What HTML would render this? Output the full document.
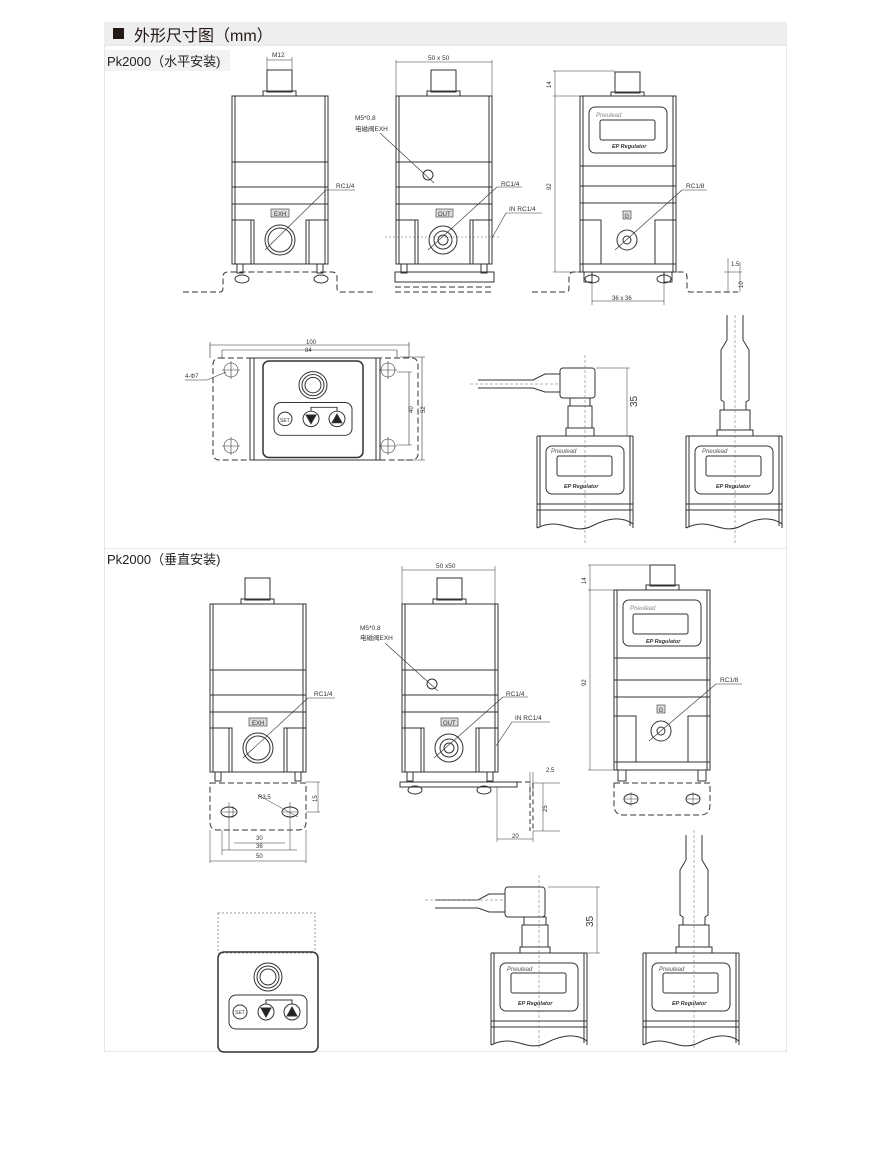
<!DOCTYPE html>
<html><head><meta charset="utf-8"><style>
body{margin:0;background:#fff;}
svg{display:block;font-family:"Liberation Sans","Noto Sans CJK SC",sans-serif;}
</style></head><body>
<svg width="890" height="1155" viewBox="0 0 890 1155" xmlns="http://www.w3.org/2000/svg">
<defs>
<g id="body" fill="none" stroke="#333" stroke-width="1">
 <rect x="35" y="-26" width="25" height="22"/>
 <rect x="31" y="-5" width="33" height="5"/>
 <rect x="0" y="0" width="96" height="168"/>
 <line x1="3" y1="0" x2="3" y2="168"/><line x1="93" y1="0" x2="93" y2="168"/>
 <line x1="0" y1="66" x2="96" y2="66"/><line x1="0" y1="91" x2="96" y2="91"/><line x1="0" y1="108" x2="96" y2="108"/>
 <rect x="0" y="124" width="22" height="44"/><line x1="19" y1="124" x2="19" y2="168"/>
 <rect x="74" y="124" width="22" height="44"/><line x1="77" y1="124" x2="77" y2="168"/>
 <rect x="5" y="168" width="6" height="9"/><rect x="85" y="168" width="6" height="9"/>
</g>
<g id="panel" fill="none" stroke="#333">
 <rect x="0" y="0" width="100" height="100" rx="6" stroke-width="1.5"/>
 <circle cx="50" cy="25" r="14"/><circle cx="50" cy="25" r="11"/><circle cx="50" cy="25" r="8"/>
 <rect x="11" y="43" width="78" height="34" rx="7"/>
 <circle cx="22" cy="60" r="7"/><circle cx="48" cy="60" r="8"/><circle cx="74" cy="60" r="8"/>
 <path d="M43 56 L53 56 L48 65 Z" fill="#222"/><path d="M69 64 L79 64 L74 55 Z" fill="#222"/>
 <path d="M48 52 V48 H74 V52" stroke-width="1"/>
</g>
<g id="stub" fill="none" stroke="#333">
 <path d="M0 0 H96 M0 0 V92 M96 0 V92 M0 68 H96 M0 74 H96 M3 0 V90 M93 0 V90"/>
 <path d="M0 92 C25 80 35 100 55 90 C70 82 85 80 96 88"/>
 <rect x="9" y="10" width="78" height="48" rx="6"/>
 <rect x="20" y="20" width="55" height="20" rx="2"/>
</g>
</defs>

<!-- header -->
<rect x="104" y="22" width="683" height="23" fill="#eeeeee"/>
<rect x="113" y="28" width="11" height="11" fill="#231815"/>
<text x="134" y="41" font-size="16" fill="#231815">外形尺寸图（mm）</text>
<rect x="104.5" y="45.5" width="682" height="1006" fill="none" stroke="#e6e6e6"/>
<line x1="104" y1="548.5" x2="787" y2="548.5" stroke="#e6e6e6"/>
<rect x="105" y="50" width="125" height="21" fill="#f3f3f3"/>
<text x="107" y="66" font-size="13" fill="#222">Pk2000（水平安装)</text>
<text x="107" y="564" font-size="13" fill="#222">Pk2000（垂直安装)</text>

<g font-size="6.5" fill="#333">
<!-- ===== Section 1 ===== -->
<use href="#body" x="232" y="96"/>
<circle cx="280" cy="240" r="15" fill="none" stroke="#333"/><circle cx="280" cy="240" r="12" fill="none" stroke="#333"/>
<rect x="271" y="209" width="18" height="8" fill="#ddd" stroke="#333" stroke-width=".6"/><text x="274" y="216" font-size="6">EXH</text>
<line x1="265" y1="250" x2="326" y2="190" stroke="#333" stroke-width=".6"/><line x1="326" y1="190" x2="355" y2="190" stroke="#333" stroke-width=".6"/>
<text x="336" y="188">RC1/4</text>
<line x1="267" y1="57" x2="267" y2="70" stroke="#333" stroke-width=".5"/><line x1="292" y1="57" x2="292" y2="70" stroke="#333" stroke-width=".5"/>
<line x1="267" y1="60" x2="292" y2="60" stroke="#333" stroke-width=".5"/><text x="272" y="57">M12</text>
<path d="M183 292 H220 M220 292 Q223 292 223 288 V277 Q223 272 228 272 H332 Q337 272 337 277 V288 Q337 292 340 292 H376" fill="none" stroke="#333" stroke-dasharray="6 3"/>
<ellipse cx="242" cy="279" rx="7" ry="4" fill="none" stroke="#333"/><ellipse cx="321" cy="279" rx="7" ry="4" fill="none" stroke="#333"/>

<use href="#body" x="396" y="96"/>
<circle cx="443" cy="240" r="14" fill="none" stroke="#333"/><circle cx="443" cy="240" r="9" fill="none" stroke="#333"/><circle cx="443" cy="240" r="5" fill="none" stroke="#333"/>
<rect x="436" y="209" width="17" height="8" fill="#ddd" stroke="#333" stroke-width=".6"/><text x="438" y="216" font-size="6">OUT</text>
<line x1="385" y1="237" x2="500" y2="237" stroke="#666" stroke-width=".5" stroke-dasharray="2 2"/>
<circle cx="428" cy="175" r="5" fill="none" stroke="#333"/>
<line x1="380" y1="133" x2="434" y2="183" stroke="#333" stroke-width=".6"/>
<text x="355" y="120">M5*0.8</text><text x="355" y="131">电磁阀EXH</text>
<line x1="428" y1="250" x2="497" y2="187" stroke="#333" stroke-width=".6"/><line x1="497" y1="187" x2="522" y2="187" stroke="#333" stroke-width=".6"/>
<text x="501" y="186">RC1/4</text>
<line x1="492" y1="238" x2="506" y2="213" stroke="#333" stroke-width=".6"/><line x1="506" y1="213" x2="542" y2="213" stroke="#333" stroke-width=".6"/>
<text x="509" y="211">IN  RC1/4</text>
<line x1="396" y1="60" x2="396" y2="96" stroke="#333" stroke-width=".5"/><line x1="492" y1="60" x2="492" y2="96" stroke="#333" stroke-width=".5"/>
<line x1="396" y1="62" x2="492" y2="62" stroke="#333" stroke-width=".5"/><text x="428" y="60">50 x 50</text>
<rect x="395" y="272" width="99" height="10" fill="none" stroke="#333"/>
<path d="M395 292 H494 M395 287 H494" stroke="#333" stroke-dasharray="6 3"/>

<g fill="none" stroke="#333">
<rect x="580" y="96" width="96" height="176"/>
<line x1="583" y1="96" x2="583" y2="272"/><line x1="673" y1="96" x2="673" y2="272"/>
<line x1="580" y1="166" x2="676" y2="166"/><line x1="580" y1="186" x2="676" y2="186"/><line x1="580" y1="203" x2="676" y2="203"/>
<rect x="580" y="220" width="21" height="44"/><rect x="655" y="220" width="21" height="44"/>
<line x1="600" y1="264" x2="656" y2="264"/>
<rect x="589" y="107" width="78" height="46" rx="6"/><rect x="600" y="120" width="55" height="20" rx="2"/>
<rect x="615" y="72" width="25" height="21"/><rect x="611" y="92" width="33" height="4"/>
<rect x="584" y="272" width="8" height="10"/><rect x="664" y="272" width="8" height="10"/>
<circle cx="627" cy="240" r="10"/><circle cx="627" cy="240" r="4"/>
</g>
<text x="596" y="117" font-size="6" font-style="italic" fill="#888">Pneulead</text>
<text x="612" y="148" font-size="5.5" font-style="italic" font-weight="bold">EP Regulator</text>
<rect x="623" y="211" width="8" height="8" fill="#ddd" stroke="#333" stroke-width=".6"/><text x="624.5" y="218" font-size="6">G</text>
<line x1="615" y1="250" x2="682" y2="190" stroke="#333" stroke-width=".6"/><line x1="682" y1="190" x2="707" y2="190" stroke="#333" stroke-width=".6"/>
<text x="686" y="188">RC1/8</text>
<g stroke="#333" stroke-width=".5" fill="none">
<path d="M553 71 H615 M553 96 H580 M553 272 H580 M555 71 V272"/>
<path d="M592 282 V305 M664 282 V305 M592 301 H664"/>
<path d="M728 258 V292 M724 272 H742 M740 262 V292"/>
</g>
<text x="551" y="88" font-size="6" transform="rotate(-90 551 88)">14</text>
<text x="551" y="190" font-size="6" transform="rotate(-90 551 190)">92</text>
<text x="612" y="300" font-size="6">36 x 36</text>
<text x="731" y="266" font-size="6">1.5</text>
<text x="743" y="288" font-size="6" transform="rotate(-90 743 288)">10</text>
<path d="M532 292 H566 Q569 292 569 288 V277 Q569 272 574 272 H682 Q687 272 687 277 V288 Q687 292 690 292 H738" fill="none" stroke="#333" stroke-dasharray="6 3"/>
<ellipse cx="592" cy="279" rx="7" ry="4" fill="none" stroke="#333"/><ellipse cx="664" cy="279" rx="7" ry="4" fill="none" stroke="#333"/>

<!-- top plate view -->
<g fill="none" stroke="#333">
<rect x="213" y="358" width="48" height="102" rx="6" stroke-dasharray="6 3"/>
<rect x="370" y="358" width="48" height="102" rx="6" stroke-dasharray="6 3"/>
<rect x="250" y="358" width="130" height="102" fill="#fff"/>
<line x1="254" y1="358" x2="254" y2="460"/><line x1="376" y1="358" x2="376" y2="460"/>
</g>
<use href="#panel" x="263" y="361" transform="translate(263 361) scale(1 .965) translate(-263 -361)"/>
<g fill="none" stroke="#333" stroke-width=".6">
<circle cx="231" cy="370" r="7"/><circle cx="231" cy="446" r="7"/><circle cx="388" cy="370" r="7"/><circle cx="388" cy="446" r="7"/>
<path d="M222 370 H240 M231 361 V379 M222 446 H240 M231 437 V455 M379 370 H397 M388 361 V379 M379 446 H397 M388 437 V455"/>
<path d="M210 342 V358 M409 342 V358 M210 345 H409 M222 350 H397 M222 350 V358 M397 350 V358"/>
<path d="M397 372 H412 M397 445 H412 M409 372 V445 M400 357 H425 M400 460 H425 M422 357 V460"/>
<path d="M185 380 H207 L226 372"/>
</g>
<text x="306" y="344" font-size="6">100</text><text x="305" y="352" font-size="6">84</text>
<text x="185" y="378" font-size="6">4-Φ7</text>
<text x="413" y="413" font-size="6" transform="rotate(-90 413 413)">40</text>
<text x="425" y="413" font-size="6" transform="rotate(-90 425 413)">52</text>
<text x="280" y="422" font-size="5">SET</text>

<!-- cable views sec1 -->
<use href="#stub" x="537" y="436"/>
<use href="#stub" x="686" y="436"/>
<g fill="none" stroke="#333">
<path d="M478 380 H533 L545 374 H560 V392 H545 L533 388 H478"/>
<rect x="560" y="368" width="35" height="30" rx="3"/>
<rect x="570" y="398" width="20" height="8"/><rect x="568" y="406" width="24" height="22"/><rect x="566" y="428" width="28" height="8"/>
<path d="M727 315 V340 L721 350 V400 L724 402 V410 H746 V402 L749 400 V350 L743 340 V315"/>
<rect x="720" y="410" width="30" height="20"/><rect x="717" y="430" width="36" height="6"/>
</g>
<g stroke="#666" stroke-width=".5" stroke-dasharray="3 2" fill="none">
<path d="M585 355 V545 M735 315 V545 M470 384 H560"/>
</g>
<path d="M596 368 H630 M596 436 H630 M627 368 V436" stroke="#333" stroke-width=".5" fill="none"/>
<text x="637" y="407" font-size="10" transform="rotate(-90 637 407)">35</text>
<text x="551" y="453" font-size="6" font-style="italic" fill="#555">Pneulead</text>
<text x="564" y="488" font-size="5.5" font-style="italic" font-weight="bold">EP Regulator</text>
<text x="702" y="453" font-size="6" font-style="italic" fill="#555">Pneulead</text>
<text x="716" y="488" font-size="5.5" font-style="italic" font-weight="bold">EP Regulator</text>

<!-- ===== Section 2 ===== -->
<use href="#body" x="210" y="604"/>
<circle cx="258" cy="748" r="15" fill="none" stroke="#333"/><circle cx="258" cy="748" r="12" fill="none" stroke="#333"/>
<rect x="249" y="718" width="18" height="8" fill="#ddd" stroke="#333" stroke-width=".6"/><text x="252" y="725" font-size="6">EXH</text>
<line x1="243" y1="758" x2="308" y2="698" stroke="#333" stroke-width=".6"/><line x1="308" y1="698" x2="335" y2="698" stroke="#333" stroke-width=".6"/>
<text x="314" y="696">RC1/4</text>
<g fill="none" stroke="#333">
<path d="M210 783 H306 V822 Q306 830 298 830 H218 Q210 830 210 822 Z" stroke-dasharray="6 3"/>
<ellipse cx="229" cy="812" rx="8" ry="5"/><ellipse cx="290" cy="812" rx="8" ry="5"/>
</g>
<g stroke="#333" stroke-width=".5" fill="none">
<path d="M229 802 V850 M290 802 V850 M222 812 H236 M283 812 H297 M233 806 V818"/>
<path d="M234 843 H285 M222 850 H297 M222 830 V855 M210 830 V863 M306 830 V863 M210 861 H306"/>
<path d="M306 782 H320 M306 812 H320 M318 782 V812 M258 795 L298 817"/>
</g>
<text x="256" y="840" font-size="6">30</text><text x="256" y="848" font-size="6">36</text><text x="256" y="858" font-size="6">50</text>
<text x="258" y="799" font-size="6">R3.5</text>
<text x="317" y="802" font-size="6" transform="rotate(-90 317 802)">15</text>

<use href="#body" x="402" y="604"/>
<circle cx="449" cy="748" r="14" fill="none" stroke="#333"/><circle cx="449" cy="748" r="9" fill="none" stroke="#333"/><circle cx="449" cy="748" r="5" fill="none" stroke="#333"/>
<rect x="441" y="718" width="17" height="8" fill="#ddd" stroke="#333" stroke-width=".6"/><text x="443" y="725" font-size="6">OUT</text>
<circle cx="432" cy="684" r="5" fill="none" stroke="#333"/>
<line x1="385" y1="643" x2="438" y2="691" stroke="#333" stroke-width=".6"/>
<text x="360" y="630">M5*0.8</text><text x="360" y="640">电磁阀EXH</text>
<line x1="434" y1="758" x2="503" y2="697" stroke="#333" stroke-width=".6"/><line x1="503" y1="697" x2="528" y2="697" stroke="#333" stroke-width=".6"/>
<text x="506" y="696">RC1/4</text>
<line x1="496" y1="746" x2="512" y2="722" stroke="#333" stroke-width=".6"/><line x1="512" y1="722" x2="550" y2="722" stroke="#333" stroke-width=".6"/>
<text x="515" y="720">IN  RC1/4</text>
<path d="M402 566 V604 M495 566 V604 M402 570 H495" stroke="#333" stroke-width=".5" fill="none"/><text x="436" y="568">50 x50</text>
<g fill="none" stroke="#333">
<rect x="400" y="782" width="117" height="5"/>
<path d="M517 782 H530 Q533 782 533 786 V831 M530 787 V831" stroke-dasharray="5 3"/>
<ellipse cx="415" cy="790" rx="7" ry="4"/><ellipse cx="484" cy="790" rx="7" ry="4"/>
</g>
<g stroke="#333" stroke-width=".5" fill="none">
<path d="M497 787 V842 M533 831 V842 M497 839 H533 M533 783 H560 M533 831 H560 M543 783 V831 M530 772 V795 M533 772 V795"/>
</g>
<text x="546" y="772" font-size="6">2.5</text><text x="512" y="838" font-size="6">20</text>
<text x="547" y="812" font-size="6" transform="rotate(-90 547 812)">25</text>

<g fill="none" stroke="#333">
<rect x="614" y="590" width="96" height="180"/>
<line x1="617" y1="590" x2="617" y2="770"/><line x1="707" y1="590" x2="707" y2="770"/>
<line x1="614" y1="658" x2="710" y2="658"/><line x1="614" y1="680" x2="710" y2="680"/><line x1="614" y1="697" x2="710" y2="697"/>
<rect x="614" y="716" width="22" height="46"/><rect x="688" y="716" width="22" height="46"/><line x1="636" y1="762" x2="688" y2="762"/>
<rect x="623" y="600" width="78" height="46" rx="6"/><rect x="633" y="614" width="55" height="20" rx="2"/>
<rect x="650" y="565" width="25" height="21"/><rect x="646" y="585" width="33" height="5"/>
<rect x="618" y="770" width="8" height="11"/><rect x="698" y="770" width="8" height="11"/>
<circle cx="661" cy="731" r="10"/><circle cx="661" cy="731" r="4"/>
<path d="M614 783 H710 V805 Q710 815 700 815 H624 Q614 815 614 805 Z" stroke-dasharray="6 3"/>
<ellipse cx="631" cy="799" rx="7" ry="5"/><ellipse cx="693" cy="799" rx="7" ry="5"/>
</g>
<path d="M624 799 H638 M631 792 V806 M686 799 H700 M693 792 V806" stroke="#333" stroke-width=".5"/>
<text x="630" y="610" font-size="6" font-style="italic" fill="#888">Pneulead</text>
<text x="646" y="643" font-size="5.5" font-style="italic" font-weight="bold">EP Regulator</text>
<rect x="657" y="705" width="8" height="8" fill="#ddd" stroke="#333" stroke-width=".6"/><text x="658.5" y="712" font-size="6">G</text>
<line x1="649" y1="741" x2="716" y2="684" stroke="#333" stroke-width=".6"/><line x1="716" y1="684" x2="742" y2="684" stroke="#333" stroke-width=".6"/>
<text x="720" y="682">RC1/8</text>
<path d="M588 565 H650 M588 590 H614 M588 770 H614 M590 565 V770" stroke="#333" stroke-width=".5" fill="none"/>
<text x="586" y="584" font-size="6" transform="rotate(-90 586 584)">14</text>
<text x="586" y="686" font-size="6" transform="rotate(-90 586 686)">92</text>

<!-- bottom panel -->
<rect x="218" y="913" width="97" height="40" fill="none" stroke="#999" stroke-dasharray="2 2"/>
<use href="#panel" x="218" y="952"/>
<text x="235" y="1014" font-size="5">SET</text>

<use href="#stub" x="491" y="953"/>
<use href="#stub" x="643" y="953"/>
<g fill="none" stroke="#333">
<path d="M435 900 H478 L489 894 H505 V912 H489 L478 908 H435"/>
<rect x="505" y="887" width="40" height="30" rx="3"/>
<rect x="524" y="917" width="22" height="8"/><rect x="522" y="925" width="26" height="22"/><rect x="520" y="947" width="30" height="6"/>
<path d="M686 835 V860 L680 870 V915 L683 917 V925 H705 V917 L708 915 V870 L702 860 V835"/>
<rect x="679" y="925" width="30" height="22"/><rect x="676" y="947" width="36" height="6"/>
</g>
<g stroke="#666" stroke-width=".5" stroke-dasharray="3 2" fill="none">
<path d="M539 875 V1050 M694 830 V1050 M425 900 H505"/>
</g>
<path d="M548 887 H600 M548 953 H600 M597 887 V953" stroke="#333" stroke-width=".5" fill="none"/>
<text x="593" y="927" font-size="10" transform="rotate(-90 593 927)">35</text>
<text x="507" y="971" font-size="6" font-style="italic" fill="#555">Pneulead</text>
<text x="518" y="1005" font-size="5.5" font-style="italic" font-weight="bold">EP Regulator</text>
<text x="659" y="971" font-size="6" font-style="italic" fill="#555">Pneulead</text>
<text x="672" y="1005" font-size="5.5" font-style="italic" font-weight="bold">EP Regulator</text>
</g>
</svg>
</body></html>
